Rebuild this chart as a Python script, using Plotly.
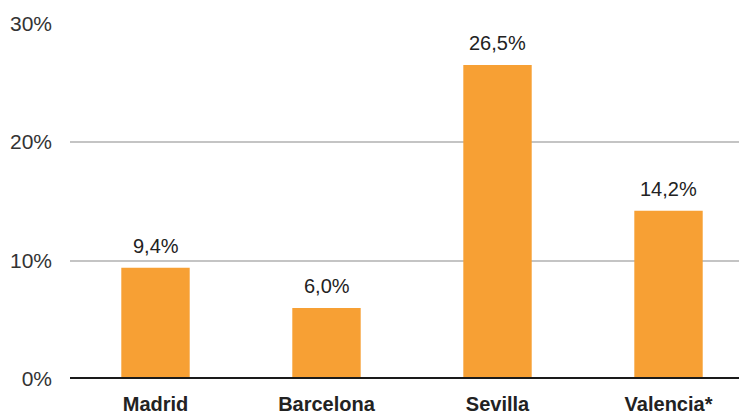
import plotly.graph_objects as go

cities = ["Madrid", "Barcelona", "Sevilla", "Valencia*"]
values = [9.4, 6.0, 26.5, 14.2]
tick_vals = [0, 10, 20, 30]
tick_text = ["0%", "10%", "20%", "30%"]

labels = [f"{v:.1f}".replace(".", ",") + "%" for v in values]
FONT = "Liberation Sans, Arial, Helvetica, sans-serif"

fig = go.Figure(go.Bar(
    x=list(range(len(cities))), y=values,
    marker=dict(color="#F7A034", line=dict(width=0)),
    width=0.40,
    cliponaxis=False,
))

for i, (v, t) in enumerate(zip(values, labels)):
    fig.add_annotation(x=i, y=v, text=t, showarrow=False, yanchor="bottom",
                       yshift=9, font=dict(size=20, color="#222222", family=FONT))

fig.add_shape(type="line", xref="paper", yref="y", x0=0, x1=1, y0=0, y1=0,
              line=dict(color="#1a1a1a", width=4), layer="above")

# page body adds an 8px margin; compensate so the plot lands where the reference has it
fig.update_layout(
    width=739, height=408,
    margin=dict(l=62, r=0, t=15, b=37, autoexpand=False),
    paper_bgcolor="white", plot_bgcolor="white",
    showlegend=False,
    font=dict(family=FONT, color="#222222"),
)
fig.update_xaxes(
    range=[-0.5, 3.459],
    tickmode="array", tickvals=list(range(len(cities))),
    ticktext=[f"<b>{c}</b>" for c in cities],
    tickfont=dict(size=20, color="#222222"),
    showgrid=False, zeroline=False, showline=False, ticks="",
    ticklabelstandoff=11, automargin=False,
)
fig.update_yaxes(
    range=[0, 30.05],
    tickmode="array", tickvals=tick_vals, ticktext=tick_text,
    tickfont=dict(size=21, color="#333333"),
    showgrid=True, gridcolor="#c4c4c4", gridwidth=1.5,
    zeroline=False, showline=False, ticks="",
    ticklabelstandoff=17, automargin=False,
)

fig.write_html("out.html")
